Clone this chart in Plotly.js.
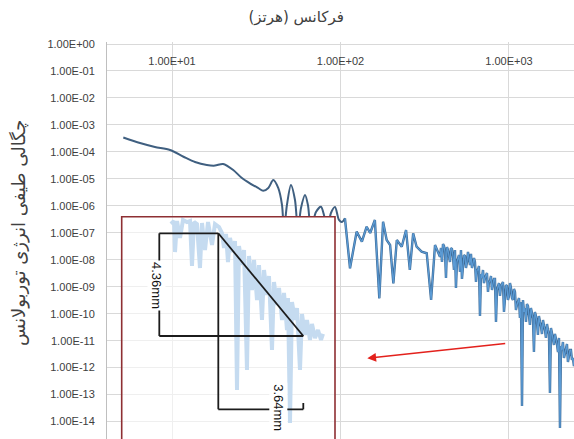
<!DOCTYPE html>
<html>
<head>
<meta charset="utf-8">
<script src="https://cdn.plot.ly/plotly-3.0.1.min.js"></script>
<style>html,body{margin:0;padding:0;background:#fff;}#chart{width:574px;height:439px;}</style>
</head>
<body>
<div id="chart"></div>
<script>
// ---- main spectrum (frequency in Hz, spectral energy density) ----
const freqHz = [5.14, 6.46, 7.92, 9.73, 11.7, 13.7, 16.1, 18.0, 20.1, 23.1, 26.0, 29.0, 32.4, 34.8, 37.3, 39.9, 42.7, 44.97, 46.2, 48.1, 50.8, 53.7, 55.9, 58.3, 61.6, 64.1, 66.8, 71.5, 76.6, 79.8, 83.2, 87.8, 92.8, 98.0, 102.1, 106.3,
  113.9, 124.7, 134, 143, 150, 160, 170, 179, 188, 197, 206, 216, 231, 245, 258, 270, 283, 303, 325, 345, 364, 389.5,
  394.9, 400.4, 405.9, 411.5, 417.2, 422.9, 428.7, 434.5, 440.5, 446.5, 452.6, 458.9, 465.2, 471.6, 478.1, 484.6, 491.3, 498.1, 505.0, 512.0,
  519.0, 526.1, 533.3, 540.7, 548.1, 555.7, 563.3, 571.1, 579.0, 586.9, 595.0, 603.2, 611.5, 619.9, 628.4, 637.2, 646.0, 654.6, 663.6, 672.9,
  682.2, 691.6, 701.1, 710.7, 720.5, 730.4, 740.5, 750.7, 761.0, 771.4, 782.0, 792.9, 803.8, 814.8, 826.0, 837.4, 848.9, 860.6, 872.4, 884.5,
  896.7, 909.0, 921.5, 934.1, 947.0, 960.1, 973.3, 986.5, 1000.1, 1014, 1028, 1042, 1056, 1071, 1086, 1100, 1115, 1131, 1147, 1162,
  1178, 1195, 1211, 1227, 1244, 1262, 1279, 1297, 1315, 1332, 1350, 1369, 1388, 1407, 1426, 1446, 1466, 1486, 1506, 1528,
  1549, 1570, 1592, 1614, 1636, 1658, 1681, 1704, 1727, 1751, 1775, 1800, 1825, 1850, 1875, 1901, 1927, 1954, 1981, 2008,
  2036, 2063, 2091, 2121, 2150, 2179, 2209, 2239, 2270, 2301, 2333, 2365, 2398, 2431, 2500];
const psd = [3.4e-4, 2.13e-4, 1.52e-4, 1.17e-4, 6.6e-5, 4.2e-5, 3.26e-5, 3.1e-5, 3.55e-5, 2.13e-5, 1.07e-5, 6.8e-6, 4.6e-6, 3.6e-6, 4.58e-6, 9.06e-6, 4.58e-6, 1.07e-6, 1.27e-7, 1.07e-6, 5.92e-6, 1.64e-6, 1.27e-7, 8.3e-7, 2.52e-6, 1.07e-6, 1.27e-7, 5.9e-7, 9.27e-7, 4.57e-7, 1.27e-7, 5.42e-7, 9.04e-7, 3.0e-7, 2.51e-7, 3.44e-7,
  4.82e-9, 1.1e-7, 4.68e-8, 1.68e-7, 9.8e-8, 2.98e-7, 3.72e-10, 2.58e-7, 5.41e-8, 3.52e-8, 1.34e-9, 5.41e-8, 3.05e-8, 1.27e-7, 4.17e-9, 9.58e-8, 3.05e-8, 1.99e-8, 1.74e-8, 3.22e-10, 3.52e-8, 1.29e-8,
  2.73e-8, 8.26e-9, 3.84e-8, 3.24e-8, 1.94e-8, 2.11e-9, 2.97e-8, 2.3e-8, 1.38e-8, 8.26e-9, 2.73e-8, 2.5e-8, 1.38e-8, 4.17e-9, 2.3e-8, 8.97e-10, 8.26e-9, 1.16e-8, 1.5e-8, 3.52e-9,
  2.3e-8, 1.94e-9, 9.8e-9, 1.5e-8, 1.38e-8, 4.95e-9, 8.26e-9, 1.94e-8, 1.16e-8, 6.39e-9, 1.64e-8, 4.95e-9, 6.97e-9, 1.16e-8, 8.26e-9, 1.5e-9, 4.17e-9, 4.17e-9, 5.87e-9, 8.22e-11,
  2.96e-9, 2.11e-9, 4.17e-9, 1.37e-9, 2.11e-9, 2.5e-9, 3.23e-9, 6.38e-10, 1.5e-9, 1.63e-9, 2.5e-9, 7.57e-10, 1.26e-9, 1.94e-9, 1.94e-9, 4.92e-11, 7.57e-10, 1.16e-9, 1.37e-9, 4.53e-10,
  1.06e-9, 1.26e-9, 1.5e-9, 1.16e-10, 5.37e-10, 1.16e-9, 1.06e-9, 3.22e-10, 4.53e-10, 1.37e-9, 8.97e-10, 3.82e-10, 3.22e-10, 8.24e-10, 6.38e-10, 1.37e-10, 2.1e-10, 3.22e-10, 3.82e-10, 6.93e-11,
  2.72e-10, 3.79e-14, 3.22e-10, 1.16e-10, 1.63e-10, 4.92e-11, 2.29e-10, 1.93e-10, 9.75e-11, 3.81e-11, 1.63e-10, 1.16e-10, 6.93e-11, 3.8e-12, 1.16e-10, 8.22e-11, 4.92e-11, 1.62e-11, 8.22e-11, 4.92e-11,
  3.5e-11, 1.77e-11, 5.84e-11, 3.5e-11, 2.49e-11, 1.26e-11, 4.15e-11, 2.49e-11, 1.77e-11, 1.15e-13, 2.95e-11, 1.92e-11, 1.26e-11, 6.92e-12, 1.77e-11, 1.26e-11, 7.53e-12, 3.8e-12, 1.26e-11, 5.78e-15,
  6.35e-12, 4.51e-12, 8.93e-12, 2.28e-12, 3.8e-12, 5.35e-12, 7.53e-12, 1.62e-12, 3.21e-12, 4.51e-12, 4.51e-12, 1.92e-12, 2.28e-12, 1.15e-12, 1.92e-12];
const smoothEndHz = 106.3; // smooth low-frequency part ends here

// ---- faded inset spectrum (zoomed picture) ----
const insetFreq = [9.86, 10.28, 10.42, 10.71, 11.16, 11.62, 12.27, 12.79, 13.14, 13.51, 14.07, 14.66, 15.07, 15.70, 16.36, 17.28, 17.99, 19.01, 19.81, 20.35, 20.92, 21.49, 22.09, 23.02, 23.66, 24.31, 24.98, 26.03, 26.76, 27.86, 28.64, 29.84, 30.67, 31.95, 32.84, 34.21, 35.16, 36.63, 37.64, 39.22, 40.30, 42.01, 43.17, 44.97, 46.21, 48.14, 48.81, 50.15, 51.54, 53.70, 55.19, 57.49, 59.09, 61.54, 63.25, 65.90, 67.72, 70.56, 73.52, 76.61, 78.73];
const insetPsd = [2.12e-7, 2.74e-7, 1.94e-8, 2.74e-7, 6.41e-8, 2.98e-7, 2.51e-7, 2.74e-7, 5.87e-9, 2.51e-7, 2.12e-7, 4.95e-9, 2.31e-7, 2.3e-8, 2.51e-7, 3.52e-8, 2.12e-7, 1.64e-7, 9.82e-8, 2.73e-8, 9.02e-8, 8.26e-9, 6.41e-8, 1.94e-8, 4.96e-8, 1.48e-13, 3.24e-8, 6.39e-9, 2.3e-8, 8.17e-13, 1.38e-8, 7.57e-10, 9.8e-9, 3.22e-10, 6.39e-9, 5.84e-11, 4.17e-9, 4.93e-10, 2.5e-9, 4.51e-12, 1.5e-9, 2.1e-10, 8.97e-10, 5.84e-11, 5.85e-10, 2.49e-11, 3.82e-10, 8.86e-15, 2.72e-10, 5.84e-11, 1.63e-10, 8.17e-13, 9.75e-11, 1.62e-11, 5.84e-11, 1.06e-11, 4.15e-11, 1.26e-11, 2.49e-11, 1.06e-11, 1.77e-11];

// ---- tick labels ----
const xTickVals = [10, 100, 1000];
const xTickText = ['1.00E+01', '1.00E+02', '1.00E+03'];
const yTickVals = [1, 1e-1, 1e-2, 1e-3, 1e-4, 1e-5, 1e-6, 1e-7, 1e-8, 1e-9, 1e-10, 1e-11, 1e-12, 1e-13, 1e-14];
const yTickText = ['1.00E+00', '1.00E-01', '1.00E-02', '1.00E-03', '1.00E-04', '1.00E-05', '1.00E-06', '1.00E-07', '1.00E-08', '1.00E-09', '1.00E-10', '1.00E-11', '1.00E-12', '1.00E-13', '1.00E-14'];

const titleText = 'فرکانس (هرتز)';
const yTitleText = 'چگالی طیفی انرژی توربولانس';
const dimLabels = ['4.36mm', '3.64mm'];

const lowX = [], lowY = [], highX = [], highY = [];
freqHz.forEach((f, i) => {
  if (f <= smoothEndHz) { lowX.push(f); lowY.push(psd[i]); }
  if (f >= smoothEndHz) { highX.push(f); highY.push(psd[i]); }
});

const tickFont = {family: 'Liberation Sans, Arial, sans-serif', size: 11, color: '#404040'};

const traces = [
  {x: lowX, y: lowY, type: 'scatter', mode: 'lines', line: {color: '#3f5f80', width: 2, shape: 'spline', smoothing: 0.8}, xaxis: 'x', yaxis: 'y', hoverinfo: 'skip'},
  {x: highX, y: highY, type: 'scatter', mode: 'lines', line: {color: '#3d6a96', width: 2.4}, xaxis: 'x', yaxis: 'y', hoverinfo: 'skip'},
  {x: highX, y: highY, type: 'scatter', mode: 'lines', line: {color: '#5b9bd5', width: 1.2}, xaxis: 'x', yaxis: 'y', hoverinfo: 'skip'},
  {x: insetFreq, y: insetPsd, type: 'scatter', mode: 'lines', line: {color: '#c5dbf0', width: 4}, xaxis: 'x2', yaxis: 'y2', hoverinfo: 'skip'}
];

// pixel helpers for decorations (plot area: x 107..574, y 42..439)
const px = v => (v - 107) / 467;
const py = v => (439 - v) / 397;

const lineStyle = {color: '#1c1c1c', width: 1.8};
const shapes = [
  {type: 'rect', xref: 'paper', yref: 'paper', x0: px(121.7), x1: px(335), y0: -0.05, y1: py(216.7), line: {color: '#8e2f33', width: 1.6}, layer: 'above'},
  {type: 'line', xref: 'paper', yref: 'paper', x0: px(159.3), x1: px(218.3), y0: py(233.3), y1: py(233.3), line: lineStyle, layer: 'above'},
  {type: 'line', xref: 'paper', yref: 'paper', x0: px(159.3), x1: px(159.3), y0: py(233.3), y1: py(336), line: lineStyle, layer: 'above'},
  {type: 'line', xref: 'paper', yref: 'paper', x0: px(159.3), x1: px(303.3), y0: py(336), y1: py(336), line: lineStyle, layer: 'above'},
  {type: 'line', xref: 'paper', yref: 'paper', x0: px(218.3), x1: px(303.3), y0: py(233.3), y1: py(336), line: lineStyle, layer: 'above'},
  {type: 'line', xref: 'paper', yref: 'paper', x0: px(218.3), x1: px(218.3), y0: py(233.3), y1: py(409.3), line: lineStyle, layer: 'above'},
  {type: 'line', xref: 'paper', yref: 'paper', x0: px(218.3), x1: px(303.3), y0: py(409.3), y1: py(409.3), line: lineStyle, layer: 'above'},
  {type: 'line', xref: 'paper', yref: 'paper', x0: px(303.3), x1: px(303.3), y0: py(403), y1: py(409.3), line: lineStyle, layer: 'above'}
];

const annotations = [
  {text: yTitleText, xref: 'paper', yref: 'paper', x: px(19), y: py(233), xanchor: 'center', yanchor: 'middle', textangle: -90, showarrow: false, font: {family: 'DejaVu Sans, sans-serif', size: 18, color: '#404040'}},
  {text: dimLabels[0], xref: 'paper', yref: 'paper', x: px(157), y: py(285), xanchor: 'center', yanchor: 'middle', textangle: 90, showarrow: false, bgcolor: '#ffffff', borderpad: 1, font: {family: 'Liberation Sans, Arial, sans-serif', size: 13, color: '#111111'}},
  {text: dimLabels[1], xref: 'paper', yref: 'paper', x: px(278.3), y: py(407.5), xanchor: 'center', yanchor: 'middle', textangle: 90, showarrow: false, bgcolor: '#ffffff', borderpad: 1, font: {family: 'Liberation Sans, Arial, sans-serif', size: 13, color: '#111111'}},
  {text: '', xref: 'paper', yref: 'paper', x: px(367.3), y: py(358.3), showarrow: true, arrowhead: 2, arrowsize: 1.1, arrowwidth: 1.6, arrowcolor: '#e3211c', ax: 139.4, ay: -15, standoff: 0}
];

const layout = {
  width: 574, height: 439,
  margin: {l: 107, r: 0, t: 42, b: 0, pad: 0},
  paper_bgcolor: '#ffffff', plot_bgcolor: '#ffffff',
  showlegend: false,
  title: {text: titleText, font: {family: 'DejaVu Sans, sans-serif', size: 15, color: '#404040'}, xref: 'container', yref: 'container', x: 0.516, xanchor: 'center', y: 1 - 17 / 439, yanchor: 'middle'},
  xaxis: {type: 'log', range: [0.6142, 3.386], side: 'top', anchor: 'free', position: py(67), tickvals: xTickVals, ticktext: xTickText, ticks: '',
    showgrid: true, gridcolor: '#d9d9d9', gridwidth: 1, showline: false, zeroline: false, tickfont: tickFont, fixedrange: true},
  yaxis: {type: 'log', range: [-14.646, 0.074], tickvals: yTickVals, ticktext: yTickText, ticks: '', ticklabelstandoff: 9,
    showgrid: true, gridcolor: '#d9d9d9', gridwidth: 1, showline: true, linecolor: '#bfbfbf', zeroline: false, tickfont: tickFont, fixedrange: true},
  xaxis2: {type: 'log', domain: [px(121.7), px(335)], anchor: 'y2', range: [0.7015, 1.9674], tickvals: [10], showticklabels: false, ticks: '',
    showgrid: true, gridcolor: '#efefef', showline: false, zeroline: false, fixedrange: true},
  yaxis2: {type: 'log', domain: [0, py(216.7)], anchor: 'x2', range: [-14.646, -6.403], tickvals: yTickVals, showticklabels: false, ticks: '',
    showgrid: true, gridcolor: '#efefef', showline: false, zeroline: false, fixedrange: true},
  shapes: shapes,
  annotations: annotations
};

Plotly.newPlot('chart', traces, layout, {staticPlot: true, displayModeBar: false});
</script>
</body>
</html>
